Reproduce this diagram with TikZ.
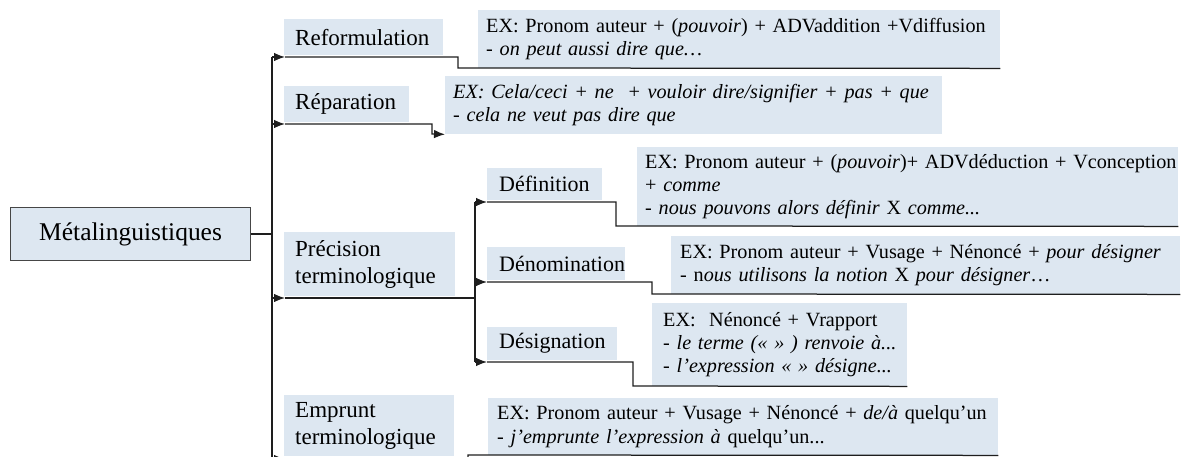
\documentclass[tikz,border=0pt]{standalone}
\usepackage{fontspec}
\setmainfont{Liberation Serif}
\usetikzlibrary{arrows.meta}
\definecolor{lblue}{RGB}{221,231,241}
\definecolor{lnc}{RGB}{30,30,30}
\definecolor{rootdraw}{RGB}{70,70,70}
\newcommand\labf{\fontsize{23pt}{27pt}\selectfont}
\newcommand\subf{\fontsize{22pt}{26pt}\selectfont}
\newcommand\rootf{\fontsize{25.5pt}{30pt}\selectfont}
\newcommand\exf{\fontsize{20.2pt}{23.4pt}\selectfont}
\newcommand\xl[2][8pt]{\mbox{\hspace*{#1}#2}}
\begin{document}
\begin{tikzpicture}[x=1pt,y=-1pt,
  ln/.style={draw=lnc,line width=1.25pt},
  arr/.style={ln,-{Latex[length=11pt,width=8.5pt]}},
  box/.style={fill=lblue,inner sep=0pt,anchor=north west,align=left,text=black},
  labbox/.style={box,font=\labf},
  subbox/.style={box,font=\subf},
  exbox/.style={box,font=\exf}]
\useasboundingbox (0,0) rectangle (1181,457);

% root
\node[box,draw=rootdraw,line width=1.2pt,align=center,text width=240pt,minimum height=53pt,font=\rootf] (root) at (10,207) {Métalinguistiques};

% level-1 labels
\node[labbox,text width=159pt,minimum height=36pt] (rf) at (284,19) {\xl[11pt]{Reformulation}};
\node[labbox,text width=125pt,minimum height=36pt] (rp) at (284,86) {\xl[11pt]{Réparation}};
\node[labbox,text width=171pt,minimum height=64pt] (pr) at (284,232) {\xl[11pt]{Précision}\\\xl[11pt]{terminologique}};
\node[labbox,text width=170pt,minimum height=61pt] (em) at (284,395) {\xl[11pt]{Emprunt}\\\xl[11pt]{terminologique}};

% level-2 labels
\node[subbox,text width=115pt,minimum height=32pt] (df) at (487,168) {\xl[12pt]{Définition}};
\node[subbox,text width=138pt,minimum height=33pt] (dn) at (487,247) {\xl[12pt]{Dénomination}};
\node[subbox,text width=130pt,minimum height=33pt] (ds) at (487,327) {\xl[12pt]{Désignation}};

% example boxes
\node[exbox,text width=522pt,minimum height=58pt] (exrf) at (478,10)
  {\xl{EX: Pronom auteur + (\textit{pouvoir}) + ADVaddition +Vdiffusion}\\
   \xl{\textit{- on peut aussi dire que…}}};
\node[exbox,text width=497pt,minimum height=58pt] (exrp) at (445,76)
  {\xl{\textit{EX: Cela/ceci + ne~ + vouloir dire/signifier + pas + que}}\\
   \xl{\textit{- cela ne veut pas dire que}}};
\node[exbox,text width=541pt,minimum height=79pt] (exdf) at (637,147)
  {\xl{EX: Pronom auteur + (\textit{pouvoir})+ ADVdéduction + Vconception}\\
   \xl{+ \textit{comme}}\\
   \xl{\textit{- nous pouvons alors définir} X \textit{comme...}}};
\node[exbox,text width=509pt,minimum height=58pt] (exdn) at (671,236)
  {\xl[9pt]{EX: Pronom auteur + Vusage + Nénoncé + \textit{pour désigner}}\\
   \xl[9pt]{- n\textit{ous utilisons la notion} X \textit{pour désigner}…}};
\node[exbox,text width=255pt,minimum height=83pt] (exds) at (652,303)
  {\xl[11pt]{EX:~ Nénoncé + Vrapport}\\
   \xl[11pt]{\textit{- le terme (« » ) renvoie à...}}\\
   \xl[11pt]{\textit{- l’expression « » désigne...}}};
\node[exbox,text width=510pt,minimum height=57pt] (exem) at (488,398)
  {\xl[9pt]{EX: Pronom auteur + Vusage + Nénoncé + \textit{de/à} quelqu’un}\\
   \xl[9pt]{- \textit{j'emprunte l'expression à} quelqu’un...}};

% trunk coordinates
\coordinate (T) at (272,57);
\coordinate (Tb) at (272,475);
\coordinate (T2) at (475,202);
\coordinate (T2b) at (475,362);
% arrow targets
\coordinate (arf) at (285,57);
\coordinate (arp) at (285,124);
\coordinate (apr) at (285,298);
\coordinate (aem) at (285,459);
\coordinate (adf) at (487,202);
\coordinate (adn) at (487,282);
\coordinate (ads) at (487,362);
% step corners
\coordinate (srf) at (458,68);
\coordinate (srp) at (432,134);
\coordinate (sdf) at (616,226);
\coordinate (sdn) at (652,294);
\coordinate (sds) at (633,386);
\coordinate (sem) at (468,455);

% trunks
\draw[ln] (T) -- (Tb);
\draw[ln] (root.east) -- (root.east -| T);
\draw[ln] (T2) -- (T2b);

% level-1 connectors
\draw[arr] (T |- arf) -- (arf);
\draw[ln] (arf) -| (srf) -- (exrf.south east);
\draw[arr] (T |- arp) -- (arp);
\draw[arr] (arp) -| (srp) -- (exrp.south west);
\draw[arr] (T |- apr) -- (apr);
\draw[ln] (apr) -- (T2 |- apr);
\draw[arr] (T |- aem) -- (aem);
\draw[ln] (aem) -| (sem) -- (exem.south east);

% level-2 connectors
\draw[arr] (T2 |- adf) -- (adf);
\draw[ln] (adf) -| (sdf) -- (exdf.south east);
\draw[arr] (T2 |- adn) -- (adn);
\draw[ln] (adn) -| (sdn) -- (exdn.south east);
\draw[arr] (T2 |- ads) -- (ads);
\draw[ln] (ads) -| (sds) -- (exds.south east);
\end{tikzpicture}
\end{document}
